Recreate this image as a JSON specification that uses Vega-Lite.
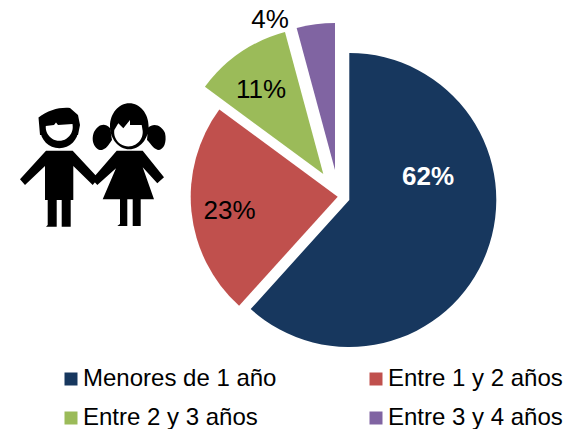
{
"$schema":"https://vega.github.io/schema/vega-lite/v6.json",
"width":583,"height":429,"padding":0,"autosize":{"type":"none"},
"background":"white",
"config":{"view":{"stroke":null},"font":"Liberation Sans"},
"data":{"values":[
{"grupo":"Menores de 1 año","valor":61.7,"orden":1,"etiqueta":"62%"},
{"grupo":"Entre 1 y 2 años","valor":23.4,"orden":2,"etiqueta":"23%"},
{"grupo":"Entre 2 y 3 años","valor":10.7,"orden":3,"etiqueta":"11%"},
{"grupo":"Entre 3 y 4 años","valor":4.2,"orden":4,"etiqueta":"4%"}
]},
"transform":[{"stack":"valor","groupby":[],"sort":[{"field":"orden","order":"ascending"}],"as":["v0","v1"]}],
"encoding":{
"theta":{"field":"v0","type":"quantitative","stack":null,"scale":{"domain":[0,100],"range":[0,6.283185307]}},
"theta2":{"field":"v1"},
"color":{"field":"grupo","type":"nominal","scale":{"domain":["Menores de 1 año","Entre 1 y 2 años","Entre 2 y 3 años","Entre 3 y 4 años"],"range":["#17375E","#C0504D","#9BBB59","#8064A2"]},
"legend":{"title":null,"orient":"none","legendX":59,"legendY":367,"columns":2,"columnPadding":87,"rowPadding":15,"values":["Menores de 1 año","Entre 2 y 3 años","Entre 1 y 2 años","Entre 3 y 4 años"],"symbolType":"square","symbolSize":169,"symbolStrokeWidth":0,"labelFontSize":24,"labelFont":"Liberation Sans","labelColor":"#000000","labelOffset":0,"labelLimit":300,"gridAlign":"all"}}
},
"layer":[
{"transform":[{"filter":"datum.orden==1"}],"mark":{"type":"arc","x":349.3,"y":200,"outerRadius":147}},
{"transform":[{"filter":"datum.orden==2"}],"mark":{"type":"arc","x":337.7,"y":196.7,"outerRadius":147}},
{"transform":[{"filter":"datum.orden==3"}],"mark":{"type":"arc","x":323.3,"y":174,"outerRadius":147}},
{"transform":[{"filter":"datum.orden==4"}],"mark":{"type":"arc","x":335,"y":170,"outerRadius":147}},
{"transform":[{"filter":"datum.orden==1"}],"mark":{"type":"text","x":428,"y":177,"fontSize":26,"fontWeight":"bold","fill":"#ffffff","font":"Liberation Sans"},"encoding":{"theta":null,"theta2":null,"color":null,"text":{"field":"etiqueta"}}},
{"transform":[{"filter":"datum.orden==2"}],"mark":{"type":"text","x":229.5,"y":211,"fontSize":26,"fill":"#000000","font":"Liberation Sans"},"encoding":{"theta":null,"theta2":null,"color":null,"text":{"field":"etiqueta"}}},
{"transform":[{"filter":"datum.orden==3"}],"mark":{"type":"text","x":261,"y":90,"fontSize":26,"fill":"#000000","font":"Liberation Sans"},"encoding":{"theta":null,"theta2":null,"color":null,"text":{"field":"etiqueta"}}},
{"transform":[{"filter":"datum.orden==4"}],"mark":{"type":"text","x":270,"y":20,"fontSize":26,"fill":"#000000","font":"Liberation Sans"},"encoding":{"theta":null,"theta2":null,"color":null,"text":{"field":"etiqueta"}}},
{"transform":[{"filter":"datum.orden==1"}],"mark":{"type":"point","x":0,"y":0,"size":4,"filled":true,"fill":"#000000","opacity":1,
"shape":"M46 150.7L72.7 150.7L98.3 178.3L92.7 185L73.3 166L73.3 200L70.7 200L70.7 226.7L61.7 226.7L61.7 200L56.7 200L56.7 226.7L46 226.7L47.7 225L47.7 200L45 200L45 166L25 185L20 179.3Z M40.3 129.3A19 19 0 1 1 78.3 129.3A19 19 0 1 1 40.3 129.3Z M38.5 117.5C48 110 60 107 70 108L78 115L80 125L78 135L40 135Z M116.7 150.7L142.7 150.7L164 177.3L157.3 183.3L142.7 167.3L154 199.3L140.7 199.3L140.7 226L132.7 226L132.7 199.3L127.3 199.3L127.3 226L117.3 226L120 224L120 199.3L102.7 199.3L116 168.3L97.3 185L92 179.3Z M110 126.3A19.3 23 0 1 1 148.6 126.3A19.3 23 0 1 1 110 126.3Z M110 128C104 122 98 125 94 132C90 142 96 151 102 150C108 148 110 142 112 140Z M148 128C154 122 162 126 165 133C167 142 164 150 158 150C152 148 150 142 147 140Z"},
"encoding":{"theta":null,"theta2":null,"color":null}},
{"transform":[{"filter":"datum.orden==1"}],"mark":{"type":"point","x":0,"y":0,"size":4,"filled":true,"fill":"#ffffff","opacity":1,
"shape":"M45.8 126L54 125L56 122.5L58 125L72.5 124L72.7 126A13.5 13.5 0 1 1 45.8 126Z M114.3 130L118.3 123.3L123.3 128.3L130 120L130 125L141.7 125L142.7 131A14.3 14.3 0 1 1 114.3 130Z"},
"encoding":{"theta":null,"theta2":null,"color":null}}
]
}
